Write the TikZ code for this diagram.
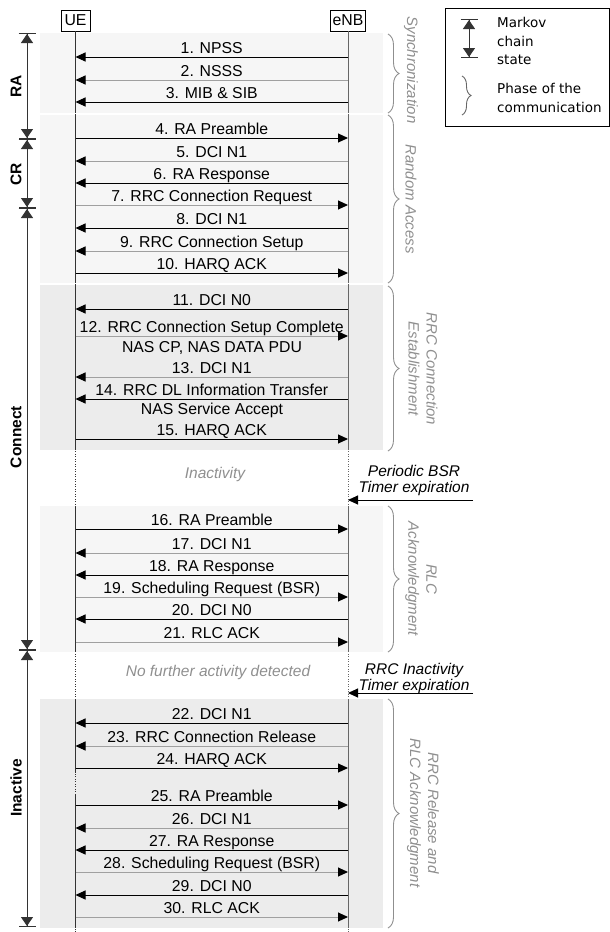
\documentclass[tikz,border=0pt]{standalone}
\usepackage{fontspec}
\setmainfont{Liberation Sans}
\newfontfamily\legendfont{DejaVu Sans}
\usetikzlibrary{arrows.meta,decorations.pathreplacing}
\definecolor{msggray}{HTML}{A0A0A0}
\definecolor{notegray}{HTML}{8F8F8F}
\definecolor{lightbox}{HTML}{F6F6F6}
\definecolor{darkbox}{HTML}{ECECEC}

\begin{document}
\begin{tikzpicture}[x=1pt, y=-1pt,
    >={Triangle[length=10pt,width=9pt,color=black]},
    font=\fontsize{15.8}{16}\selectfont,
    head/.style={draw, line width=0.8pt, minimum width=29pt, minimum height=21pt, inner sep=2pt},
    life/.style={line width=1pt, draw=black!80},
    msg/.style={->, line width=1pt},
    lbl/.style={midway, above, inner sep=0.5pt, text height=11pt, text depth=3pt},
    note/.style={font=\fontsize{15.5}{16}\selectfont\itshape, align=center, inner sep=0pt},
    markov/.style={line width=1pt, draw=black!80, arrows={Bar[width=17pt] Triangle[length=9pt,width=12pt]-Triangle[length=9pt,width=12pt] Bar[width=17pt]}},
    phase/.style={decorate, decoration={brace, amplitude=11pt}, draw=notegray, line width=0.9pt},
    phaselbl/.style={font=\fontsize{15}{18}\selectfont\itshape, text=notegray, align=center, rotate=-90, inner sep=0pt},
    statelbl/.style={font=\fontsize{15.5}{16}\selectfont\bfseries, rotate=90, inner sep=0pt},
    legendtxt/.style={font=\legendfont\fontsize{13.5}{18.5}\selectfont, align=left, inner sep=0pt, anchor=west}]

    \useasboundingbox (0,0) rectangle (610,932);

    % phase backgrounds
    \fill[lightbox] (40,33) rectangle (383,113);
    \fill[lightbox] (40,115) rectangle (383,283);
    \fill[darkbox] (40,285) rectangle (383,450);
    \fill[lightbox] (40,506) rectangle (383,652);
    \fill[darkbox] (40,699) rectangle (383,928);

    % entities and lifelines
    \node[head] (ueHead) at (75.5,20.5) {UE};
    \node[head] (enbHead) at (348,20.5) {eNB};
    \coordinate (ueEnd) at (ueHead |- 0,932);
    \coordinate (enbEnd) at (enbHead |- 0,932);
    \draw[life, dash pattern=on 1pt off 1.5pt] (ueHead.south) -- (ueEnd);
    \draw[life, dash pattern=on 1pt off 1.5pt, draw=black!60] (enbHead.south) -- (enbEnd);
    \foreach \a/\b in {31/113,115/283,285/450,506/652,699/773,795/928}
        \draw[life] (ueHead |- 0,\a) -- (ueHead |- 0,\b);
    \foreach \a/\b in {31/113,115/283,285/450,506/652,699/928}
        \draw[life, draw=black!60] (enbHead |- 0,\a) -- (enbHead |- 0,\b);

    % messages
    \foreach \n/\y/\src/\dst/\col/\txt in {
        1/57/enb/ue/black/1. NPSS,
        2/80/enb/ue/msggray/2. NSSS,
        3/102/enb/ue/black/3. MIB \& SIB,
        4/138/ue/enb/black/4. RA Preamble,
        5/161/enb/ue/msggray/5. DCI N1,
        6/183/enb/ue/black/6. RA Response,
        7/205/ue/enb/msggray/7. RRC Connection Request,
        8/228/enb/ue/black/8. DCI N1,
        9/251/enb/ue/msggray/9. RRC Connection Setup,
        10/273/ue/enb/black/10. HARQ ACK,
        11/309/enb/ue/black/11. DCI N0,
        12/336/ue/enb/msggray/12. RRC Connection Setup Complete,
        13/377/enb/ue/msggray/13. DCI N1,
        14/399/enb/ue/black/14. RRC DL Information Transfer,
        15/439/ue/enb/black/15. HARQ ACK,
        16/529/ue/enb/black/16. RA Preamble,
        17/553/enb/ue/msggray/17. DCI N1,
        18/575/enb/ue/black/18. RA Response,
        19/597/ue/enb/msggray/19. Scheduling Request (BSR),
        20/619/enb/ue/black/20. DCI N0,
        21/642/ue/enb/msggray/21. RLC ACK,
        22/723/enb/ue/black/22. DCI N1,
        23/746/enb/ue/msggray/23. RRC Connection Release,
        24/768/ue/enb/black/24. HARQ ACK,
        25/805/ue/enb/black/25. RA Preamble,
        26/828/enb/ue/msggray/26. DCI N1,
        27/850/enb/ue/black/27. RA Response,
        28/872/ue/enb/msggray/28. Scheduling Request (BSR),
        29/895/enb/ue/black/29. DCI N0,
        30/917/ue/enb/msggray/30. RLC ACK} {
        \coordinate (ue\n) at (ueHead |- 0,\y);
        \coordinate (enb\n) at (enbHead |- 0,\y);
        \draw[msg, draw=\col] (\src\n) -- node[lbl] (txt\n) {\txt} (\dst\n);
    }
    \node[inner sep=0pt] (nasPdu) at (212,348) {NAS CP, NAS DATA PDU};
    \node[inner sep=0pt] (nasAccept) at (212,410) {NAS Service Accept};

    % idle periods and timers
    \node[note, text=notegray] (idle1) at (215,474) {Inactivity};
    \node[note, text=notegray] (idle2) at (218,672) {No further activity detected};
    \node[note] (bsrNote) at (414,480) {Periodic BSR\\Timer expiration};
    \coordinate (bsrStart) at (473,500);
    \coordinate (bsrEnd) at (enbHead |- 0,500);
    \draw[msg] (bsrStart) -- (bsrEnd);
    \node[note] (rrcNote) at (414,678) {RRC Inactivity\\Timer expiration};
    \coordinate (rrcStart) at (473,693);
    \coordinate (rrcEnd) at (enbHead |- 0,693);
    \draw[msg] (rrcStart) -- (rrcEnd);

    % Markov chain states
    \draw[markov] (27,33) -- (27,139);
    \draw[markov] (27,139) -- (27,208);
    \draw[markov] (27,208) -- (27,650);
    \draw[markov] (27,650) -- (27,927);
    \node[statelbl] (stRA) at (16,86) {RA};
    \node[statelbl] (stCR) at (16,174) {CR};
    \node[statelbl] (stConn) at (16,437) {Connect};
    \node[statelbl] (stInact) at (16,788) {Inactive};

    % communication phases
    \draw[phase] (388,34) -- (388,113);
    \draw[phase] (388,115) -- (388,283);
    \draw[phase] (388,286) -- (388,451);
    \draw[phase] (388,506) -- (388,652);
    \draw[phase] (388,699) -- (388,928);
    \node[phaselbl] (phSync) at (411,70) {Synchronization};
    \node[phaselbl] (phRA) at (411,199) {Random Access};
    \node[phaselbl] (phRRC) at (423,369) {RRC Connection\\Establishment};
    \node[phaselbl] (phRLC) at (421,579) {RLC\\Acknowledgment};
    \node[phaselbl] (phRel) at (423,813) {RRC Release and\\RLC Acknowledgment};

    % legend
    \draw[line width=0.8pt] (445.5,8.5) rectangle (609.2,126.5);
    \draw[markov] (469,19) -- (469,58);
    \node[legendtxt] (keyState) at (497,41) {Markov\\chain\\state};
    \draw[phase, decoration={brace, amplitude=9pt}, draw=black!60] (462,76) -- (462,115);
    \node[legendtxt] (keyPhase) at (497,98) {Phase of the\\communication};
\end{tikzpicture}
\end{document}
